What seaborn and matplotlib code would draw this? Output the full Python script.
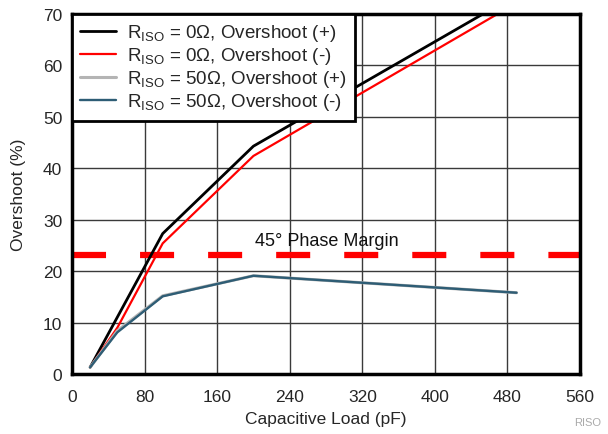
import matplotlib
matplotlib.use("Agg")
import matplotlib.pyplot as plt
import seaborn as sns
import pandas as pd

sns.set_style("white")
plt.rcParams['font.family'] = ['Liberation Sans', 'DejaVu Sans']
plt.rcParams['mathtext.fontset'] = 'custom'
plt.rcParams['mathtext.rm'] = 'Liberation Sans'
plt.rcParams['lines.scale_dashes'] = False

# Data
x_r0_pos = [20, 100, 200, 453]
y_r0_pos = [1.3, 27.3, 44.3, 70]
x_r0_neg = [20, 50, 100, 200, 469]
y_r0_neg = [1.3, 9.0, 25.4, 42.4, 70]
x_r50_pos = [20, 50, 100, 200, 490]
y_r50_pos = [1.3, 8.4, 15.2, 19.1, 15.8]
x_r50_neg = [20, 50, 100, 200, 490]
y_r50_neg = [1.3, 8.1, 15.1, 19.1, 15.8]
phase_margin_level = 23.2
labels = [r'R$_{\mathregular{ISO}}$ = 0Ω, Overshoot (+)',
          r'R$_{\mathregular{ISO}}$ = 0Ω, Overshoot (-)',
          r'R$_{\mathregular{ISO}}$ = 50Ω, Overshoot (+)',
          r'R$_{\mathregular{ISO}}$ = 50Ω, Overshoot (-)']
colors = ['#000000', '#ff0000', '#b4b4b4', '#2e5d75']
x_ticks = [0, 80, 160, 240, 320, 400, 480, 560]
y_ticks = [0, 10, 20, 30, 40, 50, 60, 70]

fig = plt.figure(figsize=(6.08, 4.35), dpi=100)
ax = fig.add_axes([0.1184, 0.138, 0.8356, 0.8275])

series = [(x_r0_pos, y_r0_pos), (x_r0_neg, y_r0_neg), (x_r50_pos, y_r50_pos), (x_r50_neg, y_r50_neg)]
lws = [2.0, 1.6, 2.2, 1.7]
for (xs, ys), lab, c, lw in zip(series, labels, colors, lws):
    df = pd.DataFrame({'x': xs, 'y': ys})
    sns.lineplot(data=df, x='x', y='y', ax=ax, color=c, linewidth=lw, label=lab,
                 sort=False, estimator=None)

ax.axhline(phase_margin_level, color='#ff0000', linewidth=4.5, linestyle=(0, (24.5, 24.5)), zorder=1)
ax.text(281, 26, '45° Phase Margin', fontsize=13, ha='center', va='center', color='#111111')

ax.set_xlim(0, 560)
ax.set_ylim(0, 70)
ax.set_xticks(x_ticks)
ax.set_yticks(y_ticks)
ax.tick_params(axis='x', length=0, labelsize=12.5, pad=11)
ax.tick_params(axis='y', length=0, labelsize=12.5, pad=7)
ax.grid(True, color='#3a3a3a', linewidth=1.0)
ax.set_axisbelow(True)
for s in ax.spines.values():
    s.set_linewidth(2.5)
    s.set_color('black')
ax.set_xlabel('Capacitive Load (pF)', fontsize=12.5, labelpad=5)
ax.set_ylabel('Overshoot (%)', fontsize=12.5, labelpad=12)

leg = ax.legend(loc='upper left', fontsize=13.5, frameon=True, fancybox=False,
                borderaxespad=0, handlelength=1.9, labelspacing=0.1,
                borderpad=0.45, handletextpad=0.6)
leg.get_frame().set_edgecolor('black')
leg.get_frame().set_linewidth(2.0)
leg.get_frame().set_alpha(1)

fig.text(0.945, 0.017, 'RISO', fontsize=8, color='#aaaaaa', ha='left', va='bottom')
fig.savefig('out.png', dpi=100)
